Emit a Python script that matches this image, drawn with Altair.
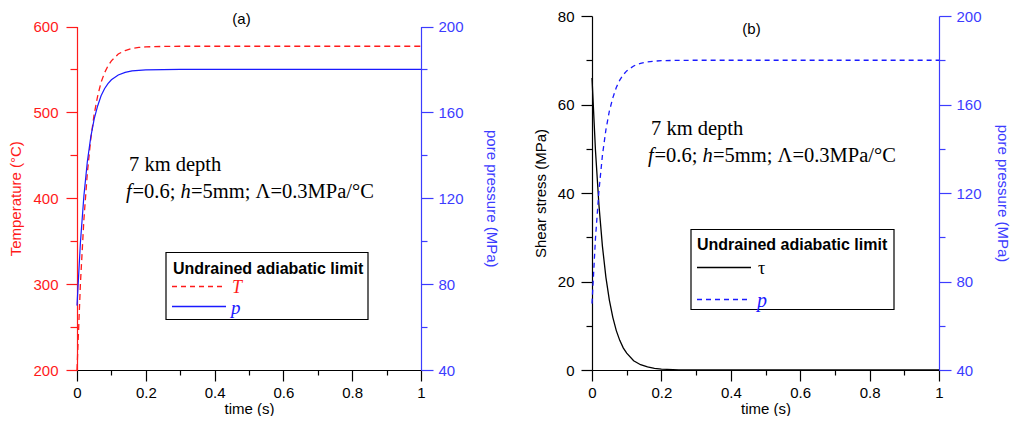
import altair as alt
import pandas as pd

# ---------------- data ----------------
time_s = [0, 0.01, 0.02, 0.03, 0.04, 0.05, 0.06, 0.07, 0.08, 0.09, 0.10,
          0.12, 0.14, 0.16, 0.18, 0.20, 0.25, 0.30, 0.40, 0.50, 0.60, 0.70,
          0.80, 0.90, 1.00]
temperature_C = [200, 301, 375, 429, 469, 498, 519, 535, 546, 554, 560,
                 568, 572, 574.5, 575.6, 576.3, 576.8, 577, 577, 577, 577, 577,
                 577, 577, 577]
pore_pressure_MPa = [70, 99.5, 121, 137, 148.5, 157, 163, 167.7, 171, 173.4, 175.2,
                     177.4, 178.6, 179.3, 179.6, 179.8, 179.95, 180, 180, 180, 180, 180,
                     180, 180, 180]
shear_stress_MPa = [66, 49.6, 37.3, 28.0, 21.0, 15.8, 11.9, 8.9, 6.7, 5.0, 3.8,
                    2.1, 1.2, 0.68, 0.38, 0.22, 0.05, 0.01, 0, 0, 0, 0,
                    0, 0, 0]

x_ticks = [0, 0.1, 0.2, 0.3, 0.4, 0.5, 0.6, 0.7, 0.8, 0.9, 1.0]
temp_ticks = [200, 250, 300, 350, 400, 450, 500, 550, 600]
pressure_ticks = [40, 60, 80, 100, 120, 140, 160, 180, 200]
stress_ticks = [0, 10, 20, 30, 40, 50, 60, 70, 80]

df = pd.DataFrame({"time": time_s, "T": temperature_C,
                   "p": pore_pressure_MPa, "tau": shear_stress_MPa})
one = pd.DataFrame({"k": [0]})

RED = "#ff1a1a"
BLUE = "#1a1aff"
BLUE_AX = "#3c3cff"
SANS = "Liberation Sans"
SERIF = "Liberation Serif"

H = 354          # common group height of both panels
LEFT_TOP = 10.5  # panel (a) plot starts lower than panel (b)


def make_axis(values, major_test, color, title, orient,
              major=11, minor=6, label_pad=6, title_pad=8):
    return alt.Axis(
        values=values, orient=orient, title=title, format=".6~g",
        labelExpr=f"({major_test}) ? datum.label : ''",
        tickSize={"condition": {"test": major_test, "value": major}, "value": minor},
        domainColor=color, tickColor=color, labelColor=color, titleColor=color,
        labelPadding=label_pad, titlePadding=title_pad,
        labelOverlap=False, labelFlush=False, grid=False,
    )


x_major = "round(datum.value*10) % 2 === 0"


def x_enc():
    return alt.X("time:Q", scale=alt.Scale(domain=[0, 1], nice=False),
                 axis=make_axis(x_ticks, x_major, "black", "time (s)", "bottom",
                                major=11, minor=5, label_pad=4, title_pad=1))


def txt(s, x, y, size, font, color="black", style="normal", weight="normal",
        align="left", baseline="alphabetic"):
    return alt.Chart(one).mark_text(
        text=s, font=font, fontSize=size, fontStyle=style, fontWeight=weight,
        color=color, align=align, baseline=baseline
    ).encode(x=alt.value(x), y=alt.value(y))


def box(x1, x2, y1, y2):
    return alt.Chart(one).mark_rect(fill="white", stroke="black", strokeWidth=1.2).encode(
        x=alt.value(x1), x2=alt.value(x2), y=alt.value(y1), y2=alt.value(y2))


def seg(x1, x2, y, color, dash=None):
    kw = dict(color=color, strokeWidth=1.3)
    if dash:
        kw["strokeDash"] = dash
    return alt.Chart(one).mark_rule(**kw).encode(
        x=alt.value(x1), x2=alt.value(x2), y=alt.value(y))


def params_text(x0, y0, gap=27):
    fs = 20.5
    return [
        txt("7 km depth", x0 + 3, y0, fs, SERIF),
        txt("f", x0, y0 + gap, fs, SERIF, style="italic"),
        txt("=0.6;", x0 + 6.5, y0 + gap, fs, SERIF),
        txt("h", x0 + 54.5, y0 + gap, fs, SERIF, style="italic"),
        txt("=5mm; \u039b=0.3MPa/\u00b0C", x0 + 65, y0 + gap, fs, SERIF),
    ]


# ---------------- panel (a) ----------------
T_line = alt.Chart(df).mark_line(color=RED, strokeDash=[6, 4], strokeWidth=1.3).encode(
    x=x_enc(),
    y=alt.Y("T:Q", scale=alt.Scale(domain=[200, 600], range=[H, LEFT_TOP], nice=False, zero=False),
            axis=make_axis(temp_ticks, "datum.value % 100 === 0", RED,
                           "Temperature (\u00b0C)", "left", major=11, minor=7,
                           label_pad=8, title_pad=9)))
p_line_a = alt.Chart(df).mark_line(color=BLUE, strokeWidth=1.2).encode(
    x=x_enc(),
    y=alt.Y("p:Q", scale=alt.Scale(domain=[40, 200], range=[H, LEFT_TOP], nice=False, zero=False),
            axis=make_axis(pressure_ticks, "datum.value % 40 === 0", BLUE_AX,
                           "pore pressure (MPa)", "right", major=12, minor=6,
                           label_pad=5, title_pad=20)))

ann_a = [txt("(a)", 164.5, 2.5, 15, SANS, baseline="middle", align="center")]
ann_a += params_text(49, 154.5)
ann_a += [
    box(89, 291, 236.5, 303.5),
    txt("Undrained adiabatic limit", 96, 257.5, 16, SANS, weight="bold"),
    seg(95, 147, 270.5, RED, [5, 4]),
    txt("T", 155, 271.5, 18, SERIF, color=RED, style="italic", baseline="middle"),
    seg(95, 149, 290.5, BLUE),
    txt("p", 154, 291.5, 19, SERIF, color=BLUE, style="italic", baseline="middle"),
]

panel_a = alt.layer(T_line, p_line_a, *ann_a).resolve_scale(y="independent").properties(
    width=344, height=H)

# ---------------- panel (b) ----------------
tau_line = alt.Chart(df).mark_line(color="black", strokeWidth=1.3).encode(
    x=x_enc(),
    y=alt.Y("tau:Q", scale=alt.Scale(domain=[0, 80], nice=False),
            axis=make_axis(stress_ticks, "datum.value % 20 === 0", "black",
                           "Shear stress (MPa)", "left", major=11, minor=6,
                           label_pad=7, title_pad=9)))
p_line_b = alt.Chart(df).mark_line(color=BLUE, strokeDash=[5, 4], strokeWidth=1.3).encode(
    x=x_enc(),
    y=alt.Y("p:Q", scale=alt.Scale(domain=[40, 200], nice=False, zero=False),
            axis=make_axis(pressure_ticks, "datum.value % 40 === 0", BLUE_AX,
                           "pore pressure (MPa)", "right", major=12, minor=6,
                           label_pad=5, title_pad=13)))

ann_b = [txt("(b)", 159.5, 12.5, 15, SANS, baseline="middle", align="center")]
ann_b += params_text(56, 118.5)
ann_b += [
    box(99, 302, 213.5, 293.5),
    txt("Undrained adiabatic limit", 105, 233.5, 16, SANS, weight="bold"),
    seg(105, 159, 251.5, "black"),
    txt("\u03c4", 166, 253, 18, SERIF, baseline="middle"),
    seg(105, 159, 283.5, BLUE, [5, 4]),
    txt("p", 165, 284.5, 20, SERIF, color=BLUE, style="italic", baseline="middle"),
]

panel_b = alt.layer(tau_line, p_line_b, *ann_b).resolve_scale(y="independent").properties(
    width=347, height=H)

chart = alt.hconcat(panel_a, panel_b, spacing=34).properties(
    padding={"left": 0, "top": 1, "right": 3, "bottom": 0}
).configure_view(stroke=None).configure_axis(
    labelFont=SANS, labelFontSize=15, titleFont=SANS, titleFontSize=15,
    titleFontWeight="normal", domainWidth=1.2, tickWidth=1.2,
)

chart.save("out.html", embed_options={"renderer": "svg", "actions": False})
